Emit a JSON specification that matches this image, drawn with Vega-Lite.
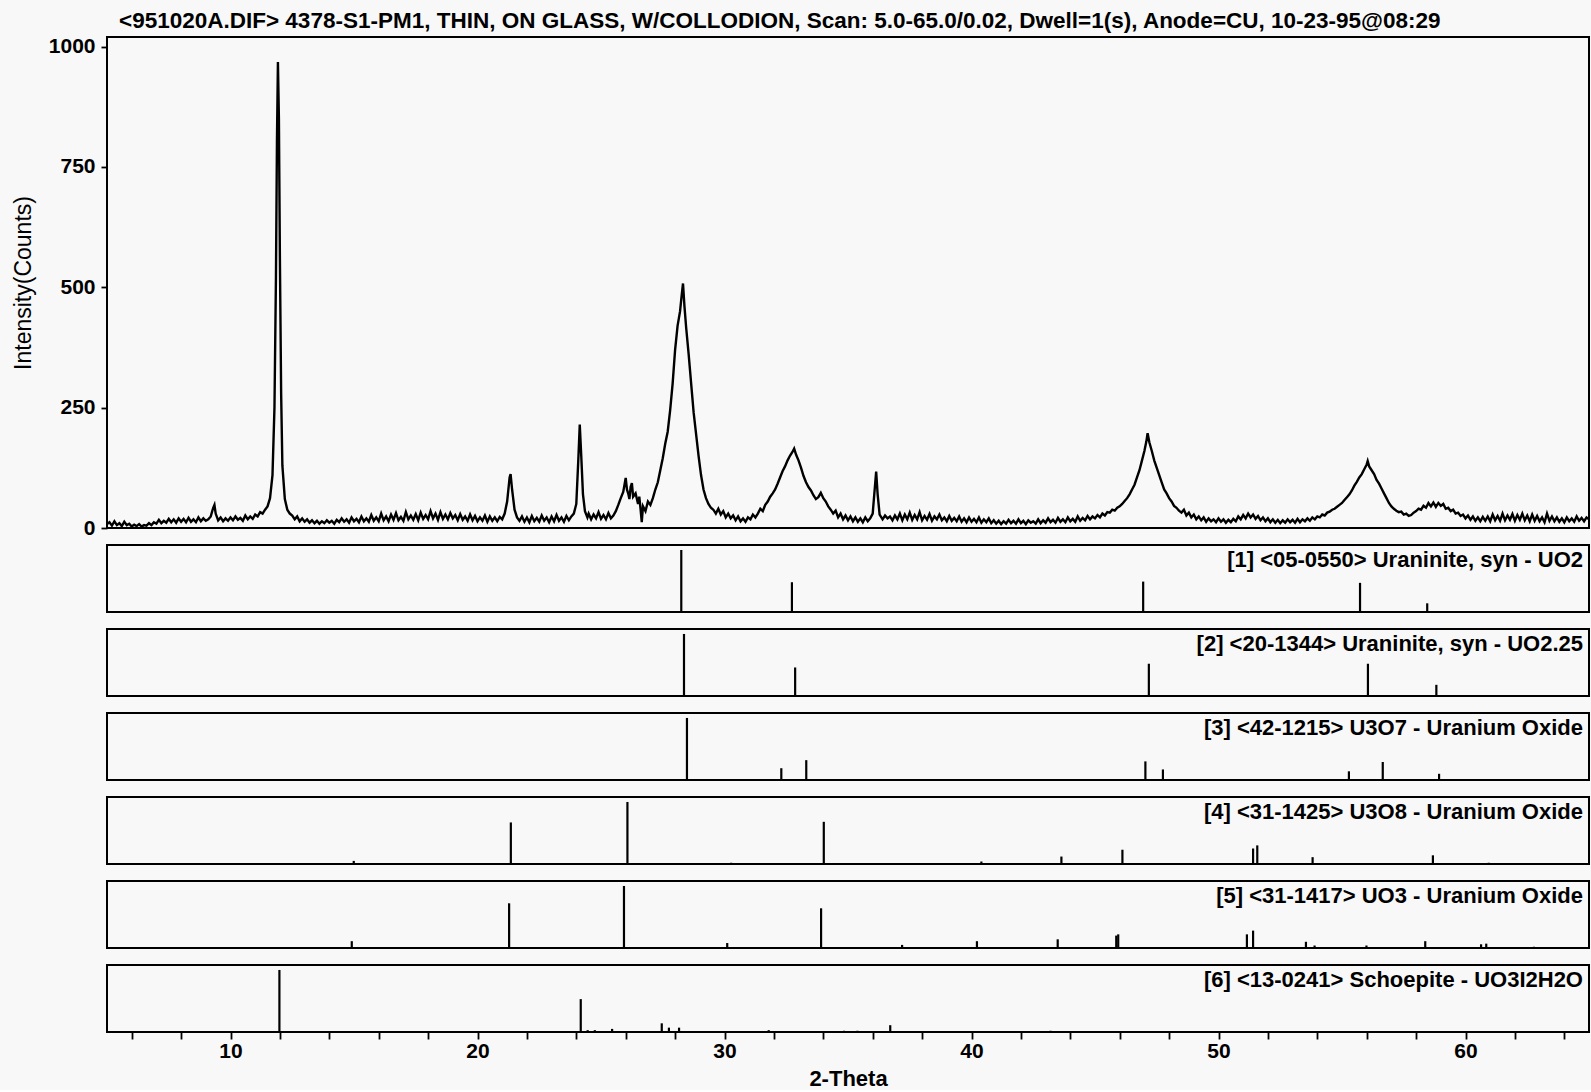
{
  "$schema": "https://vega.github.io/schema/vega-lite/v6.json",
  "background": "#f8f8f8",
  "padding": {"left": 11, "top": 9, "right": 2, "bottom": 0},
  "spacing": 17,
  "bounds": "flush",
  "datasets": {
    "trace": [
      {"t":5.0,"c":8},{"t":5.1,"c":12},{"t":5.2,"c":5},{"t":5.3,"c":14},{"t":5.4,"c":6},{"t":5.5,"c":10},{"t":5.6,"c":4},{"t":5.7,"c":13},{"t":5.8,"c":6},{"t":5.9,"c":9},
      {"t":6.0,"c":3},{"t":6.1,"c":7},{"t":6.2,"c":4},{"t":6.3,"c":8},{"t":6.4,"c":3},{"t":6.5,"c":6},{"t":6.6,"c":5},{"t":6.7,"c":10},{"t":6.8,"c":6},{"t":6.9,"c":12},
      {"t":7.0,"c":9},{"t":7.1,"c":17},{"t":7.2,"c":10},{"t":7.3,"c":15},{"t":7.4,"c":11},{"t":7.5,"c":19},{"t":7.6,"c":12},{"t":7.7,"c":18},{"t":7.8,"c":11},{"t":7.9,"c":20},
      {"t":8.0,"c":13},{"t":8.1,"c":19},{"t":8.2,"c":12},{"t":8.3,"c":21},{"t":8.4,"c":13},{"t":8.5,"c":18},{"t":8.6,"c":12},{"t":8.7,"c":22},{"t":8.8,"c":14},{"t":8.9,"c":20},
      {"t":9.0,"c":15},{"t":9.1,"c":18},{"t":9.2,"c":24},{"t":9.3,"c":42},{"t":9.35,"c":48},{"t":9.4,"c":30},{"t":9.5,"c":16},{"t":9.6,"c":22},{"t":9.7,"c":14},{"t":9.8,"c":20},{"t":9.9,"c":15},
      {"t":10.0,"c":22},{"t":10.1,"c":16},{"t":10.2,"c":24},{"t":10.3,"c":17},{"t":10.4,"c":21},{"t":10.5,"c":15},{"t":10.6,"c":26},{"t":10.7,"c":18},{"t":10.8,"c":24},{"t":10.9,"c":19},
      {"t":11.0,"c":28},{"t":11.1,"c":24},{"t":11.2,"c":33},{"t":11.3,"c":30},{"t":11.4,"c":38},{"t":11.5,"c":45},{"t":11.6,"c":62},{"t":11.7,"c":110},{"t":11.78,"c":250},{"t":11.84,"c":520},{"t":11.88,"c":800},{"t":11.92,"c":968},{"t":11.96,"c":850},
      {"t":12.0,"c":560},{"t":12.05,"c":280},{"t":12.1,"c":130},{"t":12.2,"c":60},{"t":12.3,"c":38},{"t":12.4,"c":30},{"t":12.5,"c":26},{"t":12.6,"c":18},{"t":12.7,"c":24},{"t":12.8,"c":14},{"t":12.9,"c":20},
      {"t":13.0,"c":13},{"t":13.1,"c":18},{"t":13.2,"c":11},{"t":13.3,"c":16},{"t":13.4,"c":10},{"t":13.5,"c":15},{"t":13.6,"c":9},{"t":13.7,"c":14},{"t":13.8,"c":10},{"t":13.9,"c":16},
      {"t":14.0,"c":11},{"t":14.1,"c":15},{"t":14.2,"c":9},{"t":14.3,"c":17},{"t":14.4,"c":12},{"t":14.5,"c":20},{"t":14.6,"c":13},{"t":14.7,"c":18},{"t":14.8,"c":11},{"t":14.9,"c":22},
      {"t":15.0,"c":14},{"t":15.1,"c":19},{"t":15.2,"c":12},{"t":15.3,"c":24},{"t":15.4,"c":14},{"t":15.5,"c":20},{"t":15.6,"c":13},{"t":15.7,"c":27},{"t":15.8,"c":15},{"t":15.9,"c":22},
      {"t":16.0,"c":14},{"t":16.1,"c":30},{"t":16.2,"c":16},{"t":16.3,"c":24},{"t":16.4,"c":14},{"t":16.5,"c":28},{"t":16.6,"c":17},{"t":16.7,"c":31},{"t":16.8,"c":16},{"t":16.9,"c":23},
      {"t":17.0,"c":15},{"t":17.1,"c":33},{"t":17.2,"c":18},{"t":17.3,"c":26},{"t":17.4,"c":17},{"t":17.5,"c":29},{"t":17.6,"c":16},{"t":17.7,"c":32},{"t":17.8,"c":19},{"t":17.9,"c":27},
      {"t":18.0,"c":18},{"t":18.1,"c":35},{"t":18.2,"c":20},{"t":18.3,"c":30},{"t":18.4,"c":17},{"t":18.5,"c":33},{"t":18.6,"c":19},{"t":18.7,"c":28},{"t":18.8,"c":18},{"t":18.9,"c":31},
      {"t":19.0,"c":20},{"t":19.1,"c":27},{"t":19.2,"c":16},{"t":19.3,"c":29},{"t":19.4,"c":17},{"t":19.5,"c":24},{"t":19.6,"c":15},{"t":19.7,"c":28},{"t":19.8,"c":16},{"t":19.9,"c":25},
      {"t":20.0,"c":14},{"t":20.1,"c":22},{"t":20.2,"c":15},{"t":20.3,"c":26},{"t":20.4,"c":13},{"t":20.5,"c":24},{"t":20.6,"c":15},{"t":20.7,"c":22},{"t":20.8,"c":14},{"t":20.9,"c":23},
      {"t":21.0,"c":18},{"t":21.1,"c":30},{"t":21.2,"c":55},{"t":21.3,"c":105},{"t":21.34,"c":112},{"t":21.4,"c":80},{"t":21.5,"c":38},{"t":21.6,"c":22},{"t":21.7,"c":15},{"t":21.8,"c":24},{"t":21.9,"c":13},
      {"t":22.0,"c":22},{"t":22.1,"c":12},{"t":22.2,"c":25},{"t":22.3,"c":14},{"t":22.4,"c":21},{"t":22.5,"c":13},{"t":22.6,"c":26},{"t":22.7,"c":15},{"t":22.8,"c":22},{"t":22.9,"c":12},
      {"t":23.0,"c":24},{"t":23.1,"c":14},{"t":23.2,"c":27},{"t":23.3,"c":15},{"t":23.4,"c":22},{"t":23.5,"c":13},{"t":23.6,"c":25},{"t":23.7,"c":16},{"t":23.8,"c":24},{"t":23.9,"c":30},
      {"t":24.0,"c":50},{"t":24.08,"c":140},{"t":24.14,"c":215},{"t":24.2,"c":150},{"t":24.27,"c":70},{"t":24.35,"c":35},{"t":24.45,"c":22},{"t":24.5,"c":30},{"t":24.6,"c":18},{"t":24.7,"c":28},{"t":24.8,"c":20},{"t":24.9,"c":33},
      {"t":25.0,"c":19},{"t":25.1,"c":27},{"t":25.2,"c":18},{"t":25.3,"c":31},{"t":25.4,"c":20},{"t":25.5,"c":26},{"t":25.6,"c":35},{"t":25.7,"c":48},{"t":25.8,"c":62},{"t":25.9,"c":75},
      {"t":26.0,"c":104},{"t":26.05,"c":80},{"t":26.1,"c":72},{"t":26.15,"c":60},{"t":26.2,"c":85},{"t":26.25,"c":93},{"t":26.3,"c":65},{"t":26.4,"c":72},{"t":26.5,"c":50},{"t":26.55,"c":65},{"t":26.6,"c":40},{"t":26.65,"c":12},{"t":26.7,"c":45},{"t":26.8,"c":35},{"t":26.9,"c":55},
      {"t":27.0,"c":48},{"t":27.1,"c":62},{"t":27.2,"c":80},{"t":27.3,"c":95},{"t":27.4,"c":120},{"t":27.5,"c":145},{"t":27.6,"c":175},{"t":27.7,"c":200},{"t":27.8,"c":245},{"t":27.9,"c":300},
      {"t":28.0,"c":370},{"t":28.1,"c":420},{"t":28.2,"c":450},{"t":28.26,"c":480},{"t":28.32,"c":508},{"t":28.38,"c":460},{"t":28.45,"c":415},{"t":28.55,"c":360},{"t":28.65,"c":300},{"t":28.75,"c":240},{"t":28.85,"c":195},{"t":28.95,"c":150},
      {"t":29.05,"c":110},{"t":29.15,"c":80},{"t":29.25,"c":62},{"t":29.35,"c":50},{"t":29.45,"c":42},{"t":29.55,"c":38},{"t":29.65,"c":30},{"t":29.75,"c":40},{"t":29.85,"c":28},{"t":29.95,"c":35},
      {"t":30.05,"c":22},{"t":30.15,"c":30},{"t":30.25,"c":20},{"t":30.35,"c":26},{"t":30.45,"c":16},{"t":30.55,"c":24},{"t":30.65,"c":14},{"t":30.75,"c":20},{"t":30.85,"c":13},{"t":30.95,"c":22},
      {"t":31.05,"c":18},{"t":31.15,"c":28},{"t":31.25,"c":22},{"t":31.35,"c":30},{"t":31.45,"c":40},{"t":31.55,"c":35},{"t":31.65,"c":48},{"t":31.75,"c":55},{"t":31.85,"c":65},{"t":31.95,"c":72},
      {"t":32.05,"c":80},{"t":32.15,"c":92},{"t":32.25,"c":105},{"t":32.35,"c":118},{"t":32.45,"c":128},{"t":32.55,"c":140},{"t":32.65,"c":150},{"t":32.75,"c":158},{"t":32.82,"c":165},{"t":32.9,"c":152},
      {"t":33.0,"c":140},{"t":33.1,"c":125},{"t":33.2,"c":108},{"t":33.3,"c":95},{"t":33.4,"c":85},{"t":33.5,"c":78},{"t":33.6,"c":68},{"t":33.7,"c":60},{"t":33.8,"c":64},{"t":33.9,"c":73},
      {"t":34.0,"c":62},{"t":34.1,"c":55},{"t":34.2,"c":45},{"t":34.3,"c":38},{"t":34.4,"c":30},{"t":34.5,"c":36},{"t":34.6,"c":22},{"t":34.7,"c":30},{"t":34.8,"c":18},{"t":34.9,"c":26},
      {"t":35.0,"c":16},{"t":35.1,"c":24},{"t":35.2,"c":14},{"t":35.3,"c":22},{"t":35.4,"c":13},{"t":35.5,"c":20},{"t":35.6,"c":12},{"t":35.7,"c":22},{"t":35.8,"c":14},{"t":35.9,"c":20},
      {"t":36.0,"c":30},{"t":36.08,"c":80},{"t":36.14,"c":117},{"t":36.2,"c":70},{"t":36.28,"c":28},{"t":36.4,"c":18},{"t":36.5,"c":26},{"t":36.6,"c":20},{"t":36.7,"c":24},{"t":36.8,"c":16},{"t":36.9,"c":26},
      {"t":37.0,"c":18},{"t":37.1,"c":30},{"t":37.2,"c":16},{"t":37.3,"c":28},{"t":37.4,"c":18},{"t":37.5,"c":32},{"t":37.6,"c":17},{"t":37.7,"c":27},{"t":37.8,"c":18},{"t":37.9,"c":33},
      {"t":38.0,"c":16},{"t":38.1,"c":25},{"t":38.2,"c":17},{"t":38.3,"c":29},{"t":38.4,"c":15},{"t":38.5,"c":24},{"t":38.6,"c":18},{"t":38.7,"c":28},{"t":38.8,"c":16},{"t":38.9,"c":22},
      {"t":39.0,"c":14},{"t":39.1,"c":25},{"t":39.2,"c":15},{"t":39.3,"c":21},{"t":39.4,"c":14},{"t":39.5,"c":24},{"t":39.6,"c":13},{"t":39.7,"c":20},{"t":39.8,"c":12},{"t":39.9,"c":22},
      {"t":40.0,"c":13},{"t":40.1,"c":19},{"t":40.2,"c":12},{"t":40.3,"c":22},{"t":40.4,"c":11},{"t":40.5,"c":18},{"t":40.6,"c":12},{"t":40.7,"c":20},{"t":40.8,"c":10},{"t":40.9,"c":16},
      {"t":41.0,"c":9},{"t":41.1,"c":15},{"t":41.2,"c":8},{"t":41.3,"c":14},{"t":41.4,"c":9},{"t":41.5,"c":17},{"t":41.6,"c":10},{"t":41.7,"c":15},{"t":41.8,"c":9},{"t":41.9,"c":18},
      {"t":42.0,"c":10},{"t":42.1,"c":15},{"t":42.2,"c":8},{"t":42.3,"c":16},{"t":42.4,"c":11},{"t":42.5,"c":14},{"t":42.6,"c":9},{"t":42.7,"c":18},{"t":42.8,"c":10},{"t":42.9,"c":16},
      {"t":43.0,"c":11},{"t":43.1,"c":20},{"t":43.2,"c":12},{"t":43.3,"c":17},{"t":43.4,"c":11},{"t":43.5,"c":21},{"t":43.6,"c":13},{"t":43.7,"c":18},{"t":43.8,"c":12},{"t":43.9,"c":22},
      {"t":44.0,"c":14},{"t":44.1,"c":19},{"t":44.2,"c":13},{"t":44.3,"c":24},{"t":44.4,"c":15},{"t":44.5,"c":21},{"t":44.6,"c":16},{"t":44.7,"c":25},{"t":44.8,"c":18},{"t":44.9,"c":24},
      {"t":45.0,"c":20},{"t":45.1,"c":27},{"t":45.2,"c":22},{"t":45.3,"c":30},{"t":45.4,"c":26},{"t":45.5,"c":33},{"t":45.6,"c":32},{"t":45.7,"c":38},{"t":45.8,"c":36},{"t":45.9,"c":42},
      {"t":46.0,"c":45},{"t":46.1,"c":50},{"t":46.2,"c":56},{"t":46.3,"c":62},{"t":46.4,"c":70},{"t":46.5,"c":80},{"t":46.6,"c":90},{"t":46.7,"c":105},{"t":46.8,"c":120},{"t":46.9,"c":140},
      {"t":47.0,"c":160},{"t":47.08,"c":180},{"t":47.13,"c":197},{"t":47.2,"c":178},{"t":47.3,"c":160},{"t":47.4,"c":140},{"t":47.5,"c":125},{"t":47.6,"c":110},{"t":47.7,"c":95},{"t":47.8,"c":80},{"t":47.9,"c":72},
      {"t":48.0,"c":62},{"t":48.1,"c":55},{"t":48.2,"c":46},{"t":48.3,"c":42},{"t":48.4,"c":36},{"t":48.5,"c":32},{"t":48.6,"c":38},{"t":48.7,"c":26},{"t":48.8,"c":32},{"t":48.9,"c":22},
      {"t":49.0,"c":28},{"t":49.1,"c":18},{"t":49.2,"c":24},{"t":49.3,"c":16},{"t":49.4,"c":22},{"t":49.5,"c":13},{"t":49.6,"c":20},{"t":49.7,"c":14},{"t":49.8,"c":18},{"t":49.9,"c":12},
      {"t":50.0,"c":20},{"t":50.1,"c":13},{"t":50.2,"c":18},{"t":50.3,"c":11},{"t":50.4,"c":17},{"t":50.5,"c":12},{"t":50.6,"c":19},{"t":50.7,"c":14},{"t":50.8,"c":24},{"t":50.9,"c":18},
      {"t":51.0,"c":27},{"t":51.1,"c":20},{"t":51.2,"c":30},{"t":51.3,"c":22},{"t":51.4,"c":28},{"t":51.5,"c":19},{"t":51.6,"c":25},{"t":51.7,"c":16},{"t":51.8,"c":22},{"t":51.9,"c":14},
      {"t":52.0,"c":20},{"t":52.1,"c":12},{"t":52.2,"c":18},{"t":52.3,"c":11},{"t":52.4,"c":17},{"t":52.5,"c":10},{"t":52.6,"c":16},{"t":52.7,"c":11},{"t":52.8,"c":18},{"t":52.9,"c":12},
      {"t":53.0,"c":17},{"t":53.1,"c":11},{"t":53.2,"c":19},{"t":53.3,"c":12},{"t":53.4,"c":18},{"t":53.5,"c":14},{"t":53.6,"c":20},{"t":53.7,"c":15},{"t":53.8,"c":22},{"t":53.9,"c":18},
      {"t":54.0,"c":24},{"t":54.1,"c":22},{"t":54.2,"c":28},{"t":54.3,"c":26},{"t":54.4,"c":32},{"t":54.5,"c":34},{"t":54.6,"c":38},{"t":54.7,"c":40},{"t":54.8,"c":44},{"t":54.9,"c":48},
      {"t":55.0,"c":52},{"t":55.1,"c":58},{"t":55.2,"c":64},{"t":55.3,"c":70},{"t":55.4,"c":78},{"t":55.5,"c":88},{"t":55.6,"c":96},{"t":55.7,"c":105},{"t":55.8,"c":112},{"t":55.9,"c":122},
      {"t":56.0,"c":132},{"t":56.04,"c":139},{"t":56.1,"c":128},{"t":56.2,"c":120},{"t":56.3,"c":112},{"t":56.4,"c":100},{"t":56.5,"c":92},{"t":56.6,"c":82},{"t":56.7,"c":72},{"t":56.8,"c":62},{"t":56.9,"c":52},
      {"t":57.0,"c":45},{"t":57.1,"c":40},{"t":57.2,"c":36},{"t":57.3,"c":33},{"t":57.4,"c":34},{"t":57.5,"c":28},{"t":57.6,"c":30},{"t":57.7,"c":25},{"t":57.8,"c":27},{"t":57.9,"c":32},
      {"t":58.0,"c":35},{"t":58.1,"c":40},{"t":58.2,"c":38},{"t":58.3,"c":46},{"t":58.4,"c":42},{"t":58.5,"c":52},{"t":58.6,"c":45},{"t":58.7,"c":53},{"t":58.8,"c":44},{"t":58.9,"c":52},
      {"t":59.0,"c":46},{"t":59.1,"c":50},{"t":59.2,"c":40},{"t":59.3,"c":42},{"t":59.4,"c":35},{"t":59.5,"c":38},{"t":59.6,"c":30},{"t":59.7,"c":32},{"t":59.8,"c":25},{"t":59.9,"c":28},
      {"t":60.0,"c":20},{"t":60.1,"c":26},{"t":60.2,"c":17},{"t":60.3,"c":24},{"t":60.4,"c":15},{"t":60.5,"c":22},{"t":60.6,"c":14},{"t":60.7,"c":23},{"t":60.8,"c":15},{"t":60.9,"c":24},
      {"t":61.0,"c":14},{"t":61.1,"c":28},{"t":61.2,"c":16},{"t":61.3,"c":25},{"t":61.4,"c":15},{"t":61.5,"c":30},{"t":61.6,"c":16},{"t":61.7,"c":26},{"t":61.8,"c":17},{"t":61.9,"c":29},
      {"t":62.0,"c":15},{"t":62.1,"c":27},{"t":62.2,"c":17},{"t":62.3,"c":30},{"t":62.4,"c":16},{"t":62.5,"c":26},{"t":62.6,"c":14},{"t":62.7,"c":28},{"t":62.8,"c":15},{"t":62.9,"c":25},
      {"t":63.0,"c":14},{"t":63.1,"c":22},{"t":63.2,"c":12},{"t":63.3,"c":30},{"t":63.4,"c":15},{"t":63.5,"c":24},{"t":63.6,"c":14},{"t":63.7,"c":22},{"t":63.8,"c":13},{"t":63.9,"c":20},
      {"t":64.0,"c":12},{"t":64.1,"c":22},{"t":64.2,"c":14},{"t":64.3,"c":20},{"t":64.4,"c":13},{"t":64.5,"c":24},{"t":64.6,"c":15},{"t":64.7,"c":21},{"t":64.8,"c":14},{"t":64.9,"c":22},{"t":65.0,"c":18}
    ],
    "sticks": [
      {"p":1,"t":28.25,"i":100},{"p":1,"t":32.73,"i":48},{"p":1,"t":46.95,"i":49},{"p":1,"t":55.73,"i":47},{"p":1,"t":58.45,"i":14},
      {"p":2,"t":28.36,"i":100},{"p":2,"t":32.86,"i":46},{"p":2,"t":47.18,"i":52},{"p":2,"t":56.05,"i":52},{"p":2,"t":58.82,"i":18},
      {"p":3,"t":28.48,"i":100},{"p":3,"t":32.30,"i":19},{"p":3,"t":33.31,"i":32},{"p":3,"t":47.04,"i":30},{"p":3,"t":47.75,"i":17},{"p":3,"t":55.28,"i":14},{"p":3,"t":56.65,"i":29},{"p":3,"t":58.93,"i":10},
      {"p":4,"t":14.99,"i":5},{"p":4,"t":21.35,"i":67},{"p":4,"t":26.07,"i":100},{"p":4,"t":30.27,"i":2},{"p":4,"t":34.02,"i":68},{"p":4,"t":40.40,"i":4},{"p":4,"t":43.64,"i":12},{"p":4,"t":46.11,"i":23},{"p":4,"t":51.40,"i":25},{"p":4,"t":51.57,"i":30},{"p":4,"t":53.81,"i":11},{"p":4,"t":58.68,"i":14},{"p":4,"t":60.94,"i":2},
      {"p":5,"t":14.91,"i":11},{"p":5,"t":21.28,"i":72},{"p":5,"t":25.93,"i":100},{"p":5,"t":30.11,"i":8},{"p":5,"t":33.91,"i":64},{"p":5,"t":37.19,"i":5},{"p":5,"t":40.22,"i":11},{"p":5,"t":43.49,"i":14},{"p":5,"t":45.86,"i":20},{"p":5,"t":45.94,"i":22},{"p":5,"t":51.15,"i":22},{"p":5,"t":51.40,"i":28},{"p":5,"t":53.54,"i":10},{"p":5,"t":53.89,"i":4},{"p":5,"t":55.99,"i":4},{"p":5,"t":58.37,"i":11},{"p":5,"t":60.63,"i":6},{"p":5,"t":60.84,"i":7},{"p":5,"t":62.77,"i":2},
      {"p":6,"t":11.98,"i":100},{"p":6,"t":24.18,"i":53},{"p":6,"t":24.46,"i":3},{"p":6,"t":24.75,"i":3},{"p":6,"t":25.45,"i":5},{"p":6,"t":27.46,"i":14},{"p":6,"t":27.75,"i":7},{"p":6,"t":28.16,"i":7},{"p":6,"t":31.79,"i":3},{"p":6,"t":34.84,"i":2},{"p":6,"t":35.38,"i":2},{"p":6,"t":36.71,"i":11},{"p":6,"t":43.2,"i":2}
    ]
  },
  "vconcat": [
    {
      "width": 1482, "height": 491,
      "title": {"text": "<951020A.DIF> 4378-S1-PM1, THIN, ON GLASS, W/COLLODION, Scan: 5.0-65.0/0.02, Dwell=1(s), Anode=CU, 10-23-95@08:29", "anchor": "start", "frame": "group", "dx": 12, "offset": 3, "fontSize": 22.5},
      "data": {"name": "trace"},
      "mark": {"type": "line", "color": "black", "strokeWidth": 2.4},
      "encoding": {
        "x": {"field": "t", "type": "quantitative", "scale": {"domain": [5, 65], "nice": false, "zero": false}, "axis": null},
        "y": {"field": "c", "type": "quantitative", "scale": {"domain": [0, 1020], "nice": false}, "axis": {"values": [0, 250, 500, 750, 1000], "format": "d", "title": "Intensity(Counts)", "titlePadding": 13, "titleFontWeight": "normal", "titleFontSize": 23, "labelPadding": 6, "tickSize": 6}}
      }
    },
    {
      "width": 1482, "height": 67,
      "title": {"text": "[1] <05-0550> Uraninite, syn - UO2", "anchor": "end", "frame": "group", "offset": -27, "dx": -6},
      "data": {"name": "sticks"},
      "transform": [{"filter": "datum.p === 1"}],
      "mark": {"type": "rule", "color": "black", "strokeWidth": 2.2},
      "encoding": {
        "x": {"field": "t", "type": "quantitative", "scale": {"domain": [5, 65], "nice": false, "zero": false}, "axis": null},
        "y": {"field": "i", "type": "quantitative", "scale": {"domain": [0, 108], "nice": false}, "axis": null},
        "y2": {"datum": 0}
      }
    },
    {
      "width": 1482, "height": 67,
      "title": {"text": "[2] <20-1344> Uraninite, syn - UO2.25", "anchor": "end", "frame": "group", "offset": -27, "dx": -6},
      "data": {"name": "sticks"},
      "transform": [{"filter": "datum.p === 2"}],
      "mark": {"type": "rule", "color": "black", "strokeWidth": 2.2},
      "encoding": {
        "x": {"field": "t", "type": "quantitative", "scale": {"domain": [5, 65], "nice": false, "zero": false}, "axis": null},
        "y": {"field": "i", "type": "quantitative", "scale": {"domain": [0, 108], "nice": false}, "axis": null},
        "y2": {"datum": 0}
      }
    },
    {
      "width": 1482, "height": 67,
      "title": {"text": "[3] <42-1215> U3O7 - Uranium Oxide", "anchor": "end", "frame": "group", "offset": -27, "dx": -6},
      "data": {"name": "sticks"},
      "transform": [{"filter": "datum.p === 3"}],
      "mark": {"type": "rule", "color": "black", "strokeWidth": 2.2},
      "encoding": {
        "x": {"field": "t", "type": "quantitative", "scale": {"domain": [5, 65], "nice": false, "zero": false}, "axis": null},
        "y": {"field": "i", "type": "quantitative", "scale": {"domain": [0, 108], "nice": false}, "axis": null},
        "y2": {"datum": 0}
      }
    },
    {
      "width": 1482, "height": 67,
      "title": {"text": "[4] <31-1425> U3O8 - Uranium Oxide", "anchor": "end", "frame": "group", "offset": -27, "dx": -6},
      "data": {"name": "sticks"},
      "transform": [{"filter": "datum.p === 4"}],
      "mark": {"type": "rule", "color": "black", "strokeWidth": 2.2},
      "encoding": {
        "x": {"field": "t", "type": "quantitative", "scale": {"domain": [5, 65], "nice": false, "zero": false}, "axis": null},
        "y": {"field": "i", "type": "quantitative", "scale": {"domain": [0, 108], "nice": false}, "axis": null},
        "y2": {"datum": 0}
      }
    },
    {
      "width": 1482, "height": 67,
      "title": {"text": "[5] <31-1417> UO3 - Uranium Oxide", "anchor": "end", "frame": "group", "offset": -27, "dx": -6},
      "data": {"name": "sticks"},
      "transform": [{"filter": "datum.p === 5"}],
      "mark": {"type": "rule", "color": "black", "strokeWidth": 2.2},
      "encoding": {
        "x": {"field": "t", "type": "quantitative", "scale": {"domain": [5, 65], "nice": false, "zero": false}, "axis": null},
        "y": {"field": "i", "type": "quantitative", "scale": {"domain": [0, 108], "nice": false}, "axis": null},
        "y2": {"datum": 0}
      }
    },
    {
      "width": 1482, "height": 67,
      "title": {"text": "[6] <13-0241> Schoepite - UO3I2H2O", "anchor": "end", "frame": "group", "offset": -27, "dx": -6},
      "data": {"name": "sticks"},
      "transform": [{"filter": "datum.p === 6"}],
      "mark": {"type": "rule", "color": "black", "strokeWidth": 2.2},
      "encoding": {
        "x": {"field": "t", "type": "quantitative", "scale": {"domain": [5, 65], "nice": false, "zero": false}, "axis": {"values": [6, 8, 10, 12, 14, 16, 18, 20, 22, 24, 26, 28, 30, 32, 34, 36, 38, 40, 42, 44, 46, 48, 50, 52, 54, 56, 58, 60, 62, 64], "labelExpr": "datum.value % 10 === 0 ? datum.label : ''", "title": "2-Theta", "titlePadding": 7, "tickSize": 7, "labelPadding": 1}},
        "y": {"field": "i", "type": "quantitative", "scale": {"domain": [0, 108], "nice": false}, "axis": null},
        "y2": {"datum": 0}
      }
    }
  ],
  "config": {
    "view": {"stroke": "black", "strokeWidth": 2},
    "title": {"font": "Liberation Sans", "fontSize": 22, "fontWeight": "bold", "color": "black"},
    "axis": {
      "grid": false, "domain": false, "tickColor": "black", "tickWidth": 1.8,
      "labelFont": "Liberation Sans", "labelFontSize": 21, "labelFontWeight": "bold", "labelColor": "black",
      "titleFont": "Liberation Sans", "titleFontSize": 22, "titleFontWeight": "bold", "titleColor": "black"
    }
  }
}
